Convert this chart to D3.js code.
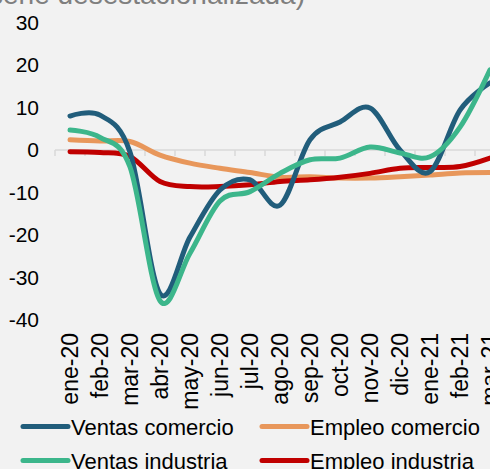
<!DOCTYPE html>
<html>
<head>
<meta charset="utf-8">
<script src="https://cdn.jsdelivr.net/npm/d3@7"></script>
<style>
  body { margin: 0; background: #f2f2f2; }
  svg { display: block; font-family: Arial, "Liberation Sans", sans-serif; }
  .tick-label { fill: #000; }
</style>
</head>
<body>
<div id="wrapper"></div>
<script>
const months = ["ene-20", "feb-20", "mar-20", "abr-20", "may-20", "jun-20", "jul-20",
  "ago-20", "sep-20", "oct-20", "nov-20", "dic-20", "ene-21", "feb-21", "mar-21"]

const ventasComercio = [8.0, 8.2, -0.5, -33.8, -20.5, -9.4, -7.0, -13.0, 2.4, 6.6, 9.9, 0.0, -5.1, 9.4, 15.8]
const ventasIndustria = [4.7, 3.0, -4.0, -35.5, -24.3, -12.0, -9.8, -5.5, -2.3, -1.9, 0.7, -0.7, -1.6, 5.4, 18.9]
const empleoComercio = [2.4, 2.1, 2.0, -1.2, -3.1, -4.3, -5.3, -6.4, -6.3, -6.6, -6.6, -6.3, -5.9, -5.4, -5.3]
const empleoIndustria = [-0.4, -0.6, -1.5, -7.4, -8.6, -8.6, -8.2, -7.4, -7.0, -6.4, -5.5, -4.3, -4.1, -3.9, -1.9]

const yTicks = [30, 20, 10, 0, -10, -20, -30, -40]

const series = [
  { name: "Ventas comercio", values: ventasComercio, color: "#215d7b" },
  { name: "Empleo comercio", values: empleoComercio, color: "#e8975b" },
  { name: "Ventas industria", values: ventasIndustria, color: "#3cb68b" },
  { name: "Empleo industria", values: empleoIndustria, color: "#c00000" },
]

function drawChart() {

  const dimensions = {
    width: 490,
    height: 469,
  }

  const wrapper = d3.select("#wrapper")
    .append("svg")
      .attr("width", dimensions.width)
      .attr("height", dimensions.height)

  wrapper.append("rect")
      .attr("width", dimensions.width)
      .attr("height", dimensions.height)
      .attr("fill", "#f2f2f2")

  // scales
  const xScale = d3.scaleBand()
    .domain(months)
    .range([55, 55 + 30 * months.length])

  const yScale = d3.scaleLinear()
    .domain([-40, 30])
    .range([319.9, 22.6])

  const xCenter = m => xScale(m) + xScale.bandwidth() / 2

  // title (cropped at top)
  wrapper.append("text")
      .attr("x", 305)
      .attr("y", 4)
      .attr("text-anchor", "end")
      .attr("fill", "#7f7f7f")
      .style("font-size", "28px")
      .text("Variación anual (serie desestacionalizada)")

  // y labels
  wrapper.append("g")
    .selectAll("text")
    .data(yTicks)
    .join("text")
      .attr("class", "tick-label")
      .attr("x", 39)
      .attr("y", d => yScale(d))
      .attr("dy", "0.35em")
      .attr("text-anchor", "end")
      .style("font-size", "21px")
      .text(d => d)

  // zero axis
  const axis = wrapper.append("g")
  axis.append("line")
      .attr("x1", 55)
      .attr("x2", dimensions.width)
      .attr("y1", yScale(0))
      .attr("y2", yScale(0))
      .attr("stroke", "#d9d9d9")
      .attr("stroke-width", 1.5)
  axis.selectAll(".tick")
    .data(months)
    .join("line")
      .attr("class", "tick")
      .attr("x1", d => xScale(d))
      .attr("x2", d => xScale(d))
      .attr("y1", yScale(0))
      .attr("y2", yScale(0) + 6)
      .attr("stroke", "#d9d9d9")
      .attr("stroke-width", 1.5)

  // x labels
  wrapper.append("g")
    .selectAll("text")
    .data(months)
    .join("text")
      .attr("class", "tick-label")
      .attr("transform", d => `translate(${xCenter(d)}, 333) rotate(-90)`)
      .attr("dy", "0.35em")
      .attr("text-anchor", "end")
      .style("font-size", "23px")
      .text(d => d)

  // lines
  const lineGenerator = d3.line()
    .x((d, i) => xCenter(months[i]))
    .y(d => yScale(d))
    .curve(d3.curveCardinal.tension(0))

  const drawOrder = [series[1], series[3], series[0], series[2]]
  wrapper.append("g")
    .selectAll("path")
    .data(drawOrder)
    .join("path")
      .attr("d", d => lineGenerator(d.values))
      .attr("fill", "none")
      .attr("stroke", d => d.color)
      .attr("stroke-width", 5)
      .attr("stroke-linecap", "round")
      .attr("stroke-linejoin", "round")

  // legend
  const legend = wrapper.append("g")
  const legendItems = legend.selectAll("g")
    .data(series)
    .join("g")
      .attr("transform", (d, i) => `translate(${i % 2 ? 262 : 23}, ${i < 2 ? 426.5 : 460.5})`)

  legendItems.append("line")
      .attr("x1", 0)
      .attr("x2", 45)
      .attr("stroke", d => d.color)
      .attr("stroke-width", 5)
      .attr("stroke-linecap", "round")

  legendItems.append("text")
      .attr("x", 48)
      .attr("y", 8)
      .style("font-size", "22px")
      .attr("fill", "#000")
      .text(d => d.name)
}
drawChart()
</script>
</body>
</html>
